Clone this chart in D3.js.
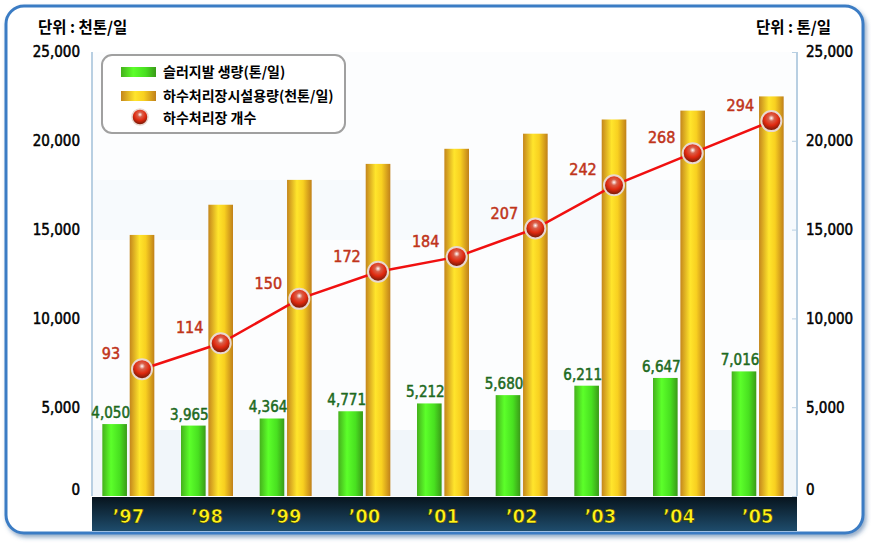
<!DOCTYPE html>
<html>
<head>
<meta charset="utf-8">
<script src="https://cdn.jsdelivr.net/npm/d3@7"></script>
<style>
body { margin: 0; background: #fff; }
svg text { font-family: "DejaVu Sans Condensed", "Liberation Sans Narrow", sans-serif; }
.kr { font-family: "Noto Sans CJK KR", sans-serif !important; font-weight: bold; }
</style>
</head>
<body>
<div id="chart"></div>
<script>
var years = ["'97", "'98", "'99", "'00", "'01", "'02", "'03", "'04", "'05"];
var sludge = [4050, 3965, 4364, 4771, 5212, 5680, 6211, 6647, 7016];
var capacity = [14700, 16400, 17800, 18700, 19550, 20400, 21200, 21700, 22500];
var plants = [93, 114, 150, 172, 184, 207, 242, 268, 294];
var ticks = [0, 5000, 10000, 15000, 20000, 25000];

var W = 871, H = 544;
var svg = d3.select("#chart").append("svg").attr("width", W).attr("height", H);
var defs = svg.append("defs");

// gradients
var g1 = defs.append("linearGradient").attr("id", "gGreen");
[["0%", "#45b01c"], ["35%", "#5cff2a"], ["70%", "#48e020"], ["100%", "#3a9a18"]].forEach(function(s) {
	g1.append("stop").attr("offset", s[0]).attr("stop-color", s[1]);
});
var g2 = defs.append("linearGradient").attr("id", "gGold");
[["0%", "#c4861c"], ["40%", "#ffe52c"], ["65%", "#f8d020"], ["100%", "#c0801a"]].forEach(function(s) {
	g2.append("stop").attr("offset", s[0]).attr("stop-color", s[1]);
});
var g3 = defs.append("linearGradient").attr("id", "gBand").attr("x2", 0).attr("y2", 1);
g3.append("stop").attr("offset", "0%").attr("stop-color", "#07141d");
g3.append("stop").attr("offset", "100%").attr("stop-color", "#1e4c6c");
var g4 = defs.append("radialGradient").attr("id", "gBall").attr("cx", "50%").attr("cy", "35%").attr("r", "60%");
[["0%", "#ffffff"], ["25%", "#d9604a"], ["60%", "#e02a10"], ["100%", "#7a1a08"]].forEach(function(s) {
	g4.append("stop").attr("offset", s[0]).attr("stop-color", s[1]);
});
var sh = defs.append("filter").attr("id", "shadow").attr("x", "-5%").attr("y", "-5%").attr("width", "110%").attr("height", "115%");
sh.append("feDropShadow").attr("dx", 2).attr("dy", 3).attr("stdDeviation", 2).attr("flood-color", "#2a5a90").attr("flood-opacity", 0.5);

// outer frame
svg.append("rect").attr("x", 6).attr("y", 6).attr("width", 857).attr("height", 527)
	.attr("rx", 18).attr("fill", "#fff").attr("stroke", "#3b7cc4").attr("stroke-width", 3)
	.attr("filter", "url(#shadow)");

var pLeft = 92, pRight = 797, pTop = 52, pBase = 496;

var x0 = d3.scaleBand().domain(years).range([89, 797]);
var x1 = d3.scaleBand().domain(["s", "c"]).range([-26, 26]).paddingInner(0.1);
var y = d3.scaleLinear().domain([0, 25000]).range([pBase, pTop]);
var yc = d3.scaleLinear().domain([0, 350]).range([484, pTop]);
function cx(i) { return x0(years[i]) + x0.bandwidth() / 2; }

// plot background
svg.append("rect").attr("x", pLeft).attr("y", pTop).attr("width", pRight - pLeft).attr("height", pBase - pTop).attr("fill", "#fcfdfe");
svg.append("rect").attr("x", pLeft).attr("y", 180).attr("width", pRight - pLeft).attr("height", 60).attr("fill", "#f7fafd");
svg.append("rect").attr("x", pLeft).attr("y", 430).attr("width", pRight - pLeft).attr("height", pBase - 430).attr("fill", "#f1f6fa");

// axes
svg.append("line").attr("x1", pLeft).attr("x2", pLeft).attr("y1", pTop).attr("y2", pBase).attr("stroke", "#b8cfe2").attr("stroke-width", 2);
svg.append("line").attr("x1", pRight).attr("x2", pRight).attr("y1", pTop).attr("y2", pBase).attr("stroke", "#b8cfe2").attr("stroke-width", 2);

var yl = svg.append("g").attr("transform", "translate(" + pLeft + ",0)")
	.call(d3.axisLeft(y).tickValues(ticks).tickSize(0).tickPadding(12).tickFormat(d3.format(",")));
var yr = svg.append("g").attr("transform", "translate(" + pRight + ",0)")
	.call(d3.axisRight(y).tickValues(ticks).tickSize(-5).tickPadding(9).tickFormat(d3.format(",")));
[yl, yr].forEach(function(a) {
	a.select(".domain").remove();
	a.selectAll(".tick line").attr("stroke", "#b8cfe2");
	a.selectAll("text").attr("font-size", 15).attr("fill", "#000")
		.attr("stroke", "#000").attr("stroke-width", 0.5)
		.attr("dy", function(d) { return d === 0 ? "-0.1em" : "0.32em"; });
});

// bars
var groups = svg.selectAll(".grp").data(years).enter().append("g")
	.attr("transform", function(d, i) { return "translate(" + cx(i) + ",0)"; });
groups.append("rect")
	.attr("x", x1("s")).attr("width", x1.bandwidth())
	.attr("y", function(d, i) { return y(sludge[i]); })
	.attr("height", function(d, i) { return pBase - y(sludge[i]); })
	.attr("fill", "url(#gGreen)");
groups.append("rect")
	.attr("x", x1("c")).attr("width", x1.bandwidth())
	.attr("y", function(d, i) { return y(capacity[i]); })
	.attr("height", function(d, i) { return pBase - y(capacity[i]); })
	.attr("fill", "url(#gGold)");
groups.append("text")
	.attr("x", x1("s") + x1.bandwidth() / 2 - 4)
	.attr("y", function(d, i) { return y(sludge[i]) - 6; })
	.attr("text-anchor", "middle").attr("font-size", 15).attr("fill", "#1e6a1e")
	.attr("stroke", "#1e6a1e").attr("stroke-width", 0.5)
	.text(function(d, i) { return d3.format(",")(sludge[i]); });

// bottom band
svg.append("rect").attr("x", pLeft).attr("y", pBase + 1).attr("width", pRight - pLeft).attr("height", 34).attr("fill", "url(#gBand)");
svg.selectAll(".yr").data(years).enter().append("text")
	.attr("x", function(d, i) { return cx(i); }).attr("y", 523)
	.attr("text-anchor", "middle").attr("font-size", 20).attr("font-weight", "bold")
	.attr("fill", "#fff21a").attr("stroke", "#2a2a00").attr("stroke-width", 0.6)
	.text(function(d) { return d.replace("'", "\u2019"); });

// line
var pcx = function(d, i) { return cx(i) + x1("c") + x1.bandwidth() / 2; };
svg.append("path").datum(plants)
	.attr("d", d3.line().x(pcx).y(function(d) { return yc(d); }))
	.attr("fill", "none").attr("stroke", "#f01010").attr("stroke-width", 2.5);
svg.selectAll(".pt").data(plants).enter().append("circle")
	.attr("cx", pcx).attr("cy", function(d) { return yc(d); }).attr("r", 10)
	.attr("fill", "url(#gBall)").attr("stroke", "#e8d8d0").attr("stroke-width", 2);
svg.selectAll(".pl").data(plants).enter().append("text")
	.attr("x", function(d, i) { return pcx(d, i) - 31; })
	.attr("y", function(d) { return yc(d) - 10; })
	.attr("text-anchor", "middle").attr("font-size", 16).attr("fill", "#c0341a")
	.attr("stroke", "#c0341a").attr("stroke-width", 0.5)
	.text(function(d) { return d; });

// unit labels
svg.append("text").attr("class", "kr").attr("x", 38).attr("y", 33).attr("font-size", 15.5).text("단위 : 천톤/일");
svg.append("text").attr("class", "kr").attr("x", 756).attr("y", 33).attr("font-size", 15.5).text("단위 : 톤/일");

// legend
var lg = svg.append("g");
lg.append("rect").attr("x", 102).attr("y", 55).attr("width", 243).attr("height", 78).attr("rx", 10)
	.attr("fill", "#fff").attr("stroke", "#a0a0a0").attr("stroke-width", 2);
lg.append("rect").attr("x", 121).attr("y", 67).attr("width", 35).attr("height", 10).attr("fill", "url(#gGreen)");
lg.append("rect").attr("x", 121).attr("y", 91).attr("width", 35).attr("height", 10).attr("fill", "url(#gGold)");
lg.append("circle").attr("cx", 140).attr("cy", 117).attr("r", 8).attr("fill", "url(#gBall)").attr("stroke", "#e8d8d0").attr("stroke-width", 1.5);
[["슬러지발 생량(톤/일)", 77], ["하수처리장시설용량(천톤/일)", 101], ["하수처리장 개수", 123]].forEach(function(t) {
	lg.append("text").attr("class", "kr").attr("x", 163).attr("y", t[1]).attr("font-size", 14).text(t[0]);
});
</script>
</body>
</html>
